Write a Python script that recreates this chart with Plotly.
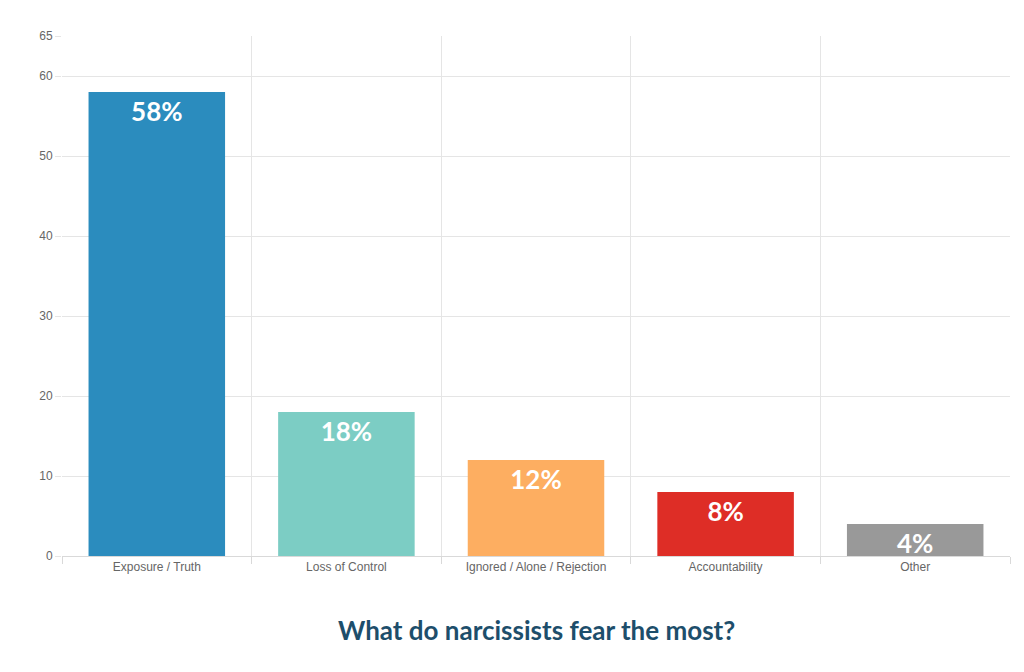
import plotly.graph_objects as go

categories = ["Exposure / Truth", "Loss of Control", "Ignored / Alone / Rejection", "Accountability", "Other"]
values = [58, 18, 12, 8, 4]
labels = ["58%", "18%", "12%", "8%", "4%"]
colors = ["#2b8cbe", "#7ccdc4", "#fdae61", "#de2d26", "#999999"]
y_ticks = [0, 10, 20, 30, 40, 50, 60, 65]

xs = list(range(len(categories)))

fig = go.Figure()
fig.add_bar(
    x=xs, y=values, text=labels, width=0.72,
    marker_color=colors, marker_line_width=0,
    textposition="inside", insidetextanchor="end",
    textfont=dict(family="Lato", size=26, color="white", weight="bold"),
    constraintext="none", hoverinfo="skip",
)

fig.update_layout(
    width=1024, height=672,
    margin=dict(l=54, r=22, t=28, b=124),
    paper_bgcolor="white", plot_bgcolor="white",
    showlegend=False,
    font=dict(family="Liberation Sans, Arial", size=12, color="#666666"),
    xaxis=dict(
        range=[-0.5, len(categories) - 0.5],
        tickvals=xs, ticktext=categories,
        showgrid=False, ticks="", zeroline=False, automargin=False,
        showline=True, linecolor="#d9d9d9",
        minor=dict(tick0=-0.5, dtick=1, showgrid=True, gridcolor="#e5e5e5",
                   ticks="outside", ticklen=7, tickcolor="#d9d9d9"),
    ),
    yaxis=dict(
        range=[0, 65], tickvals=y_ticks, automargin=False,
        showgrid=True, gridcolor="#e5e5e5", zeroline=False,
        ticks="outside", ticklen=6, tickcolor="#e5e5e5",
    ),
    annotations=[dict(
        text="<b>What do narcissists fear the most?</b>",
        xref="paper", yref="paper", x=0.5, y=-0.142, yanchor="middle",
        showarrow=False,
        font=dict(family="Lato", size=26, color="#1d4e6b"),
    )],
)

fig.write_html("out.html")
